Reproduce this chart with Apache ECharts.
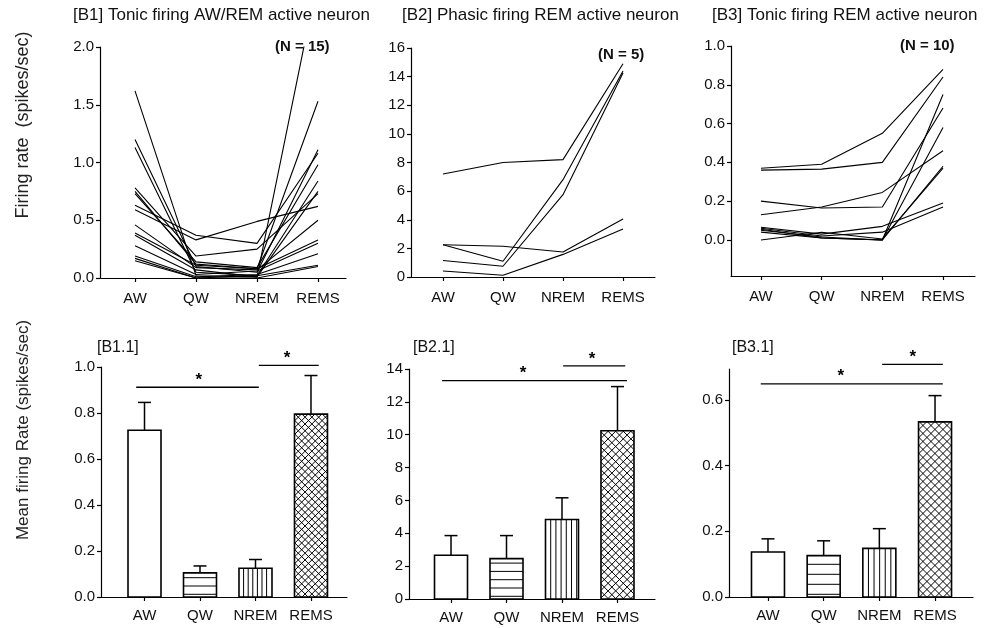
<!DOCTYPE html>
<html>
<head>
<meta charset="utf-8">
<script src="https://cdn.jsdelivr.net/npm/echarts@6/dist/echarts.min.js"></script>
<style>
html,body{margin:0;padding:0;background:#fff;}
#chart{width:984px;height:628px;}
</style>
</head>
<body>
<div id="chart"></div>
<script>
// Behavioural states on the x axis
const states = ['AW', 'QW', 'NREM', 'REMS'];

// Individual neuron firing rates (spikes/sec) per state: AW, QW, NREM, REMS
const tonicAwRemNeurons = [
  [1.62, 0.02, 0.01, 0.75],
  [1.20, 0.10, 0.05, 1.11],
  [1.13, 0.05, 0.02, 0.84],
  [0.78, 0.19, 0.25, 0.73],
  [0.75, 0.12, 0.08, 1.53],
  [0.73, 0.14, 0.09, 0.98],
  [0.63, 0.37, 0.30, 1.08],
  [0.59, 0.33, 0.49, 0.62],
  [0.46, 0.09, 0.07, 0.50],
  [0.39, 0.11, 0.08, 0.33],
  [0.37, 0.07, 0.01, 2.60],
  [0.28, 0.03, 0.06, 0.30],
  [0.19, 0.01, 0.03, 0.21],
  [0.17, 0.00, 0.02, 0.11],
  [0.15, 0.00, 0.00, 0.10]
];
const phasicRemNeurons = [
  [7.20, 8.00, 8.20, 14.90],
  [2.25, 1.10, 6.80, 14.40],
  [1.15, 0.75, 5.75, 14.25],
  [2.25, 2.15, 1.75, 4.05],
  [0.42, 0.12, 1.58, 3.35]
];
const tonicRemNeurons = [
  [0.370, 0.390, 0.550, 0.88],
  [0.360, 0.365, 0.400, 0.84],
  [0.200, 0.165, 0.170, 0.68],
  [0.130, 0.170, 0.245, 0.46],
  [0.065, 0.030, 0.070, 0.19],
  [0.060, 0.020, 0.040, 0.17],
  [0.055, 0.010, 0.000, 0.75],
  [0.050, 0.015, 0.000, 0.58],
  [0.040, 0.010, 0.000, 0.38],
  [0.000, 0.040, 0.005, 0.37]
];

// Group means and SEM (spikes/sec)
const tonicAwRemMean = [0.725, 0.105, 0.125, 0.795];
const tonicAwRemSem  = [0.121, 0.030, 0.038, 0.168];
const phasicRemMean  = [2.66, 2.46, 4.84, 10.24];
const phasicRemSem   = [1.20, 1.40, 1.32, 2.69];
const tonicRemMean   = [0.137, 0.126, 0.148, 0.533];
const tonicRemSem    = [0.040, 0.045, 0.060, 0.080];

// Significance brackets: [from state, to state, height, star position]
const tonicAwRemSig = [[-0.15, 2.06, 0.912, 0.98], [2.06, 3.14, 1.007, 2.57]];
const phasicRemSig  = [[-0.16, 3.17, 13.29, 1.30], [2.02, 3.14, 14.19, 2.54]];
const tonicRemSig   = [[-0.13, 3.14, 0.649, 1.31], [2.05, 3.14, 0.708, 2.60]];

const FONT = "'Liberation Sans', Arial, Helvetica, sans-serif";
const INK = '#111';

const grids = [
  { left: 100, top: 47,  width: 246, height: 231 },
  { left: 411, top: 48,  width: 244, height: 229 },
  { left: 731, top: 46,  width: 244, height: 230 },
  { left: 101, top: 367, width: 246, height: 230 },
  { left: 409, top: 369, width: 246, height: 230 },
  { left: 729, top: 369, width: 244, height: 228 }
];
const xRanges = [
  [-0.574, 3.459], [-0.533, 3.533], [-0.494, 3.527],
  [-0.784, 3.649], [-0.757, 3.676], [-0.700, 3.682]
];
const xLabelMargin = [13, 13, 13, 11, 11, 11];
const yAxesCfg = [
  { min: 0, max: 2, interval: 0.5, dec: 1 },
  { min: 0, max: 16, interval: 2, dec: 0 },
  { min: -0.186, max: 1.0, ticks: [0, 0.2, 0.4, 0.6, 0.8, 1.0], dec: 1 },
  { min: 0, max: 1.0, interval: 0.2, dec: 1 },
  { min: 0, max: 14, interval: 2, dec: 0 },
  { min: 0, max: 0.694, ticks: [0, 0.2, 0.4, 0.6], dec: 1 }
];

const axisLineStyle = { color: '#000', width: 1.2 };

const xAxes = grids.map((g, i) => ({
  type: 'value',
  gridIndex: i,
  min: xRanges[i][0],
  max: xRanges[i][1],
  axisLine: { show: true, onZero: false, lineStyle: axisLineStyle },
  axisTick: { show: true, length: 4, customValues: [0, 1, 2, 3], lineStyle: axisLineStyle },
  axisLabel: {
    customValues: [0, 1, 2, 3],
    formatter: v => states[Math.round(v)],
    fontFamily: FONT, fontSize: 15, color: INK, margin: xLabelMargin[i]
  },
  splitLine: { show: false }
}));

const yAxes = yAxesCfg.map((c, i) => {
  const ax = {
    type: 'value',
    gridIndex: i,
    min: c.min,
    max: c.max,
    axisLine: { show: true, onZero: false, lineStyle: axisLineStyle },
    axisTick: { show: true, length: 4, lineStyle: axisLineStyle },
    axisLabel: {
      formatter: v => v.toFixed(c.dec),
      fontFamily: FONT, fontSize: 15, color: INK, margin: 6
    },
    splitLine: { show: false }
  };
  if (c.ticks) {
    ax.axisTick.customValues = c.ticks;
    ax.axisLabel.customValues = c.ticks;
  } else {
    ax.interval = c.interval;
  }
  return ax;
});

// One line per neuron
function neuronLines(neurons, idx) {
  return neurons.map(vals => ({
    type: 'line',
    xAxisIndex: idx,
    yAxisIndex: idx,
    data: vals.map((v, k) => [k, v]),
    symbol: 'none',
    silent: true,
    clip: true,
    lineStyle: { color: '#000', width: 1.1 }
  }));
}

const BAR_W = 33;

// Hatching drawn inside a bar rectangle; sp holds the line spacing per fill
function hatch(kind, sp, x0, y0, x1, y1) {
  const out = [];
  const st = { stroke: '#000', lineWidth: 1 };
  if (kind === 1) {
    for (let y = y1 - 2.7; y > y0 + 2; y -= sp.h) {
      out.push({ type: 'line', shape: { x1: x0, y1: y, x2: x1, y2: y }, style: st });
    }
  } else if (kind === 2) {
    for (let x = x0 + sp.v; x < x1 - 1; x += sp.v) {
      out.push({ type: 'line', shape: { x1: x, y1: y0, x2: x, y2: y1 }, style: st });
    }
  } else if (kind === 3) {
    const s = sp.x;
    // lines with y = x - c
    for (let c = x0 - y1; c <= x1 - y0; c += s) {
      const a = Math.max(x0, y0 + c), b = Math.min(x1, y1 + c);
      if (b > a) out.push({ type: 'line', shape: { x1: a, y1: a - c, x2: b, y2: b - c }, style: st });
    }
    // lines with y = c - x
    for (let c = x0 + y0; c <= x1 + y1; c += s) {
      const a = Math.max(x0, c - y1), b = Math.min(x1, c - y0);
      if (b > a) out.push({ type: 'line', shape: { x1: a, y1: c - a, x2: b, y2: c - b }, style: st });
    }
  }
  return out;
}

function barSeries(mean, sem, idx, sp) {
  return {
    type: 'custom',
    xAxisIndex: idx,
    yAxisIndex: idx,
    silent: true,
    data: mean.map((m, k) => [k, m, m + sem[k]]),
    encode: { x: 0, y: [1, 2] },
    renderItem: function (params, api) {
      const k = api.value(0);
      const base = api.coord([k, 0]);
      const top = api.coord([k, api.value(1)]);
      const err = api.coord([k, api.value(2)]);
      const cx = base[0];
      const x0 = cx - BAR_W / 2, x1 = cx + BAR_W / 2;
      const y0 = top[1], y1 = base[1];
      const children = [
        { type: 'rect', shape: { x: x0, y: y0, width: BAR_W, height: y1 - y0 },
          style: { fill: '#fff', stroke: 'none' } }
      ].concat(hatch(params.dataIndex, sp, x0, y0, x1, y1));
      children.push({ type: 'rect', shape: { x: x0, y: y0, width: BAR_W, height: y1 - y0 },
        style: { fill: 'none', stroke: '#000', lineWidth: 1.6 } });
      children.push({ type: 'line', shape: { x1: cx, y1: y0, x2: cx, y2: err[1] },
        style: { stroke: '#000', lineWidth: 1.5 } });
      children.push({ type: 'line', shape: { x1: cx - 6.5, y1: err[1], x2: cx + 6.5, y2: err[1] },
        style: { stroke: '#000', lineWidth: 1.5 } });
      return { type: 'group', children: children };
    }
  };
}

function sigSeries(sig, idx) {
  return {
    type: 'custom',
    xAxisIndex: idx,
    yAxisIndex: idx,
    silent: true,
    clip: false,
    data: sig,
    encode: { x: [0, 1, 3], y: 2 },
    renderItem: function (params, api) {
      const a = api.coord([api.value(0), api.value(2)]);
      const b = api.coord([api.value(1), api.value(2)]);
      const s = api.coord([api.value(3), api.value(2)]);
      return {
        type: 'group',
        children: [
          { type: 'line', shape: { x1: a[0], y1: a[1], x2: b[0], y2: b[1] },
            style: { stroke: '#000', lineWidth: 1.3 } },
          { type: 'text', x: s[0], y: a[1] - 7,
            style: { text: '*', font: 'bold 17px ' + FONT, fill: '#000',
                     align: 'center', verticalAlign: 'middle' } }
        ]
      };
    }
  };
}

function label(text, x, y, font) {
  return {
    type: 'text', x: x, y: y, silent: true,
    style: { text: text, font: font + ' ' + FONT, fill: INK, align: 'left', verticalAlign: 'middle' }
  };
}

const graphics = [
  label('[B1] Tonic firing AW/REM active neuron', 73, 15, '17px'),
  label('[B2] Phasic firing REM active neuron', 402, 15, '17px'),
  label('[B3] Tonic firing REM active neuron', 712, 15, '17px'),
  label('(N = 15)', 275, 47, 'bold 15px'),
  label('(N = 5)', 598, 55, 'bold 15px'),
  label('(N = 10)', 900, 46, 'bold 15px'),
  label('[B1.1]', 97, 348, '16px'),
  label('[B2.1]', 413, 348, '16px'),
  label('[B3.1]', 732, 348, '16px'),
  { type: 'text', x: 23, y: 125, rotation: Math.PI / 2, silent: true,
    style: { text: 'Firing rate  (spikes/sec)', font: '18px ' + FONT, fill: '#222',
             align: 'center', verticalAlign: 'middle' } },
  { type: 'text', x: 23, y: 430, rotation: Math.PI / 2, silent: true,
    style: { text: 'Mean firing Rate (spikes/sec)', font: '17px ' + FONT, fill: '#222',
             align: 'center', verticalAlign: 'middle' } }
];

const series = []
  .concat(neuronLines(tonicAwRemNeurons, 0))
  .concat(neuronLines(phasicRemNeurons, 1))
  .concat(neuronLines(tonicRemNeurons, 2))
  .concat([
    barSeries(tonicAwRemMean, tonicAwRemSem, 3, { h: 8.3, v: 4.6, x: 6.8 }),
    barSeries(phasicRemMean, phasicRemSem, 4, { h: 8.3, v: 5.2, x: 7.6 }),
    barSeries(tonicRemMean, tonicRemSem, 5, { h: 10, v: 5.6, x: 8 }),
    sigSeries(tonicAwRemSig, 3),
    sigSeries(phasicRemSig, 4),
    sigSeries(tonicRemSig, 5)
  ]);

const chart = echarts.init(document.getElementById('chart'), null, { renderer: 'canvas' });
chart.setOption({
  animation: false,
  backgroundColor: '#fff',
  grid: grids,
  xAxis: xAxes,
  yAxis: yAxes,
  series: series,
  graphic: { elements: graphics }
});
</script>
</body>
</html>
